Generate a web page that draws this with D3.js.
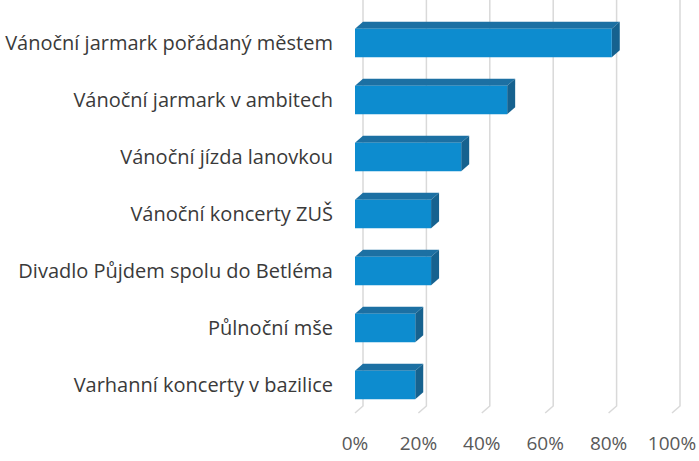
<!DOCTYPE html>
<html>
<head>
<meta charset="utf-8">
<script src="https://cdn.jsdelivr.net/npm/d3@7"></script>
<style>
  body { margin: 0; background: #fff; }
  svg text { font-family: "Open Sans", sans-serif; }
</style>
</head>
<body>
<div id="chart"></div>
<script>
// categories, top to bottom
var categories = [
    "Vánoční jarmark pořádaný městem",
    "Vánoční jarmark v ambitech",
    "Vánoční jízda lanovkou",
    "Vánoční koncerty ZUŠ",
    "Divadlo Půjdem spolu do Betléma",
    "Půlnoční mše",
    "Varhanní koncerty v bazilice"
];
var values = [0.81, 0.48, 0.335, 0.24, 0.24, 0.19, 0.19];
var ticks = [0, 0.2, 0.4, 0.6, 0.8, 1.0];

var width = 699, height = 461;
var left = 355;
var depthX = 8, depthY = 7;

var svg = d3.select('#chart')
    .append('svg')
    .attr('width', width)
    .attr('height', height);

var x = d3.scaleLinear().domain([0, 1]).range([left, 672]);
var y = d3.scaleBand().domain(categories).range([14.5, 413.5]).paddingInner(0.5).paddingOuter(0.25);

var floorY = 413;

// gridlines on back wall, with floor diagonal
svg.append('g')
    .selectAll('path')
    .data(ticks)
    .enter().append('path')
    .attr('d', function(d) {
        var bx = x(d) + depthX;
        return 'M' + bx + ',0 L' + bx + ',' + (floorY - depthY) + ' L' + x(d) + ',' + floorY;
    })
    .attr('fill', 'none')
    .attr('stroke', '#d9d9d9')
    .attr('stroke-width', 1.5);

// bars: top, side, front
var bar = svg.append('g').selectAll('g')
    .data(categories.map(function(c, i) { return { category: c, value: values[i] }; }))
    .enter().append('g');

bar.append('path')
    .attr('d', function(d) {
        var x0 = x(0), x1 = x(d.value), y0 = y(d.category);
        return 'M' + x0 + ',' + y0 + ' L' + (x0 + depthX) + ',' + (y0 - depthY) +
            ' L' + (x1 + depthX) + ',' + (y0 - depthY) + ' L' + x1 + ',' + y0 + 'Z';
    })
    .attr('fill', '#1c70a3');

bar.append('path')
    .attr('d', function(d) {
        var x1 = x(d.value), y0 = y(d.category), y1 = y0 + y.bandwidth();
        return 'M' + x1 + ',' + y0 + ' L' + (x1 + depthX) + ',' + (y0 - depthY) +
            ' L' + (x1 + depthX) + ',' + (y1 - depthY) + ' L' + x1 + ',' + y1 + 'Z';
    })
    .attr('fill', '#16628f');

bar.append('rect')
    .attr('x', x(0))
    .attr('y', function(d) { return y(d.category); })
    .attr('width', function(d) { return x(d.value) - x(0); })
    .attr('height', y.bandwidth())
    .attr('fill', '#0d8ccf');

// category labels
svg.append('g')
    .selectAll('text')
    .data(categories)
    .enter().append('text')
    .attr('x', 333)
    .attr('y', function(d) { return y(d) + y.bandwidth() / 2; })
    .attr('dy', '0.35em')
    .attr('text-anchor', 'end')
    .style('font-size', '20px')
    .style('fill', '#3a3a3a')
    .text(function(d) { return d; });

// tick labels
svg.append('g')
    .selectAll('text')
    .data(ticks)
    .enter().append('text')
    .attr('x', function(d) { return x(d); })
    .attr('y', 443)
    .attr('dy', '0.35em')
    .attr('text-anchor', 'middle')
    .style('font-size', '19px')
    .style('fill', '#595959')
    .text(d3.format('.0%'));
</script>
</body>
</html>
